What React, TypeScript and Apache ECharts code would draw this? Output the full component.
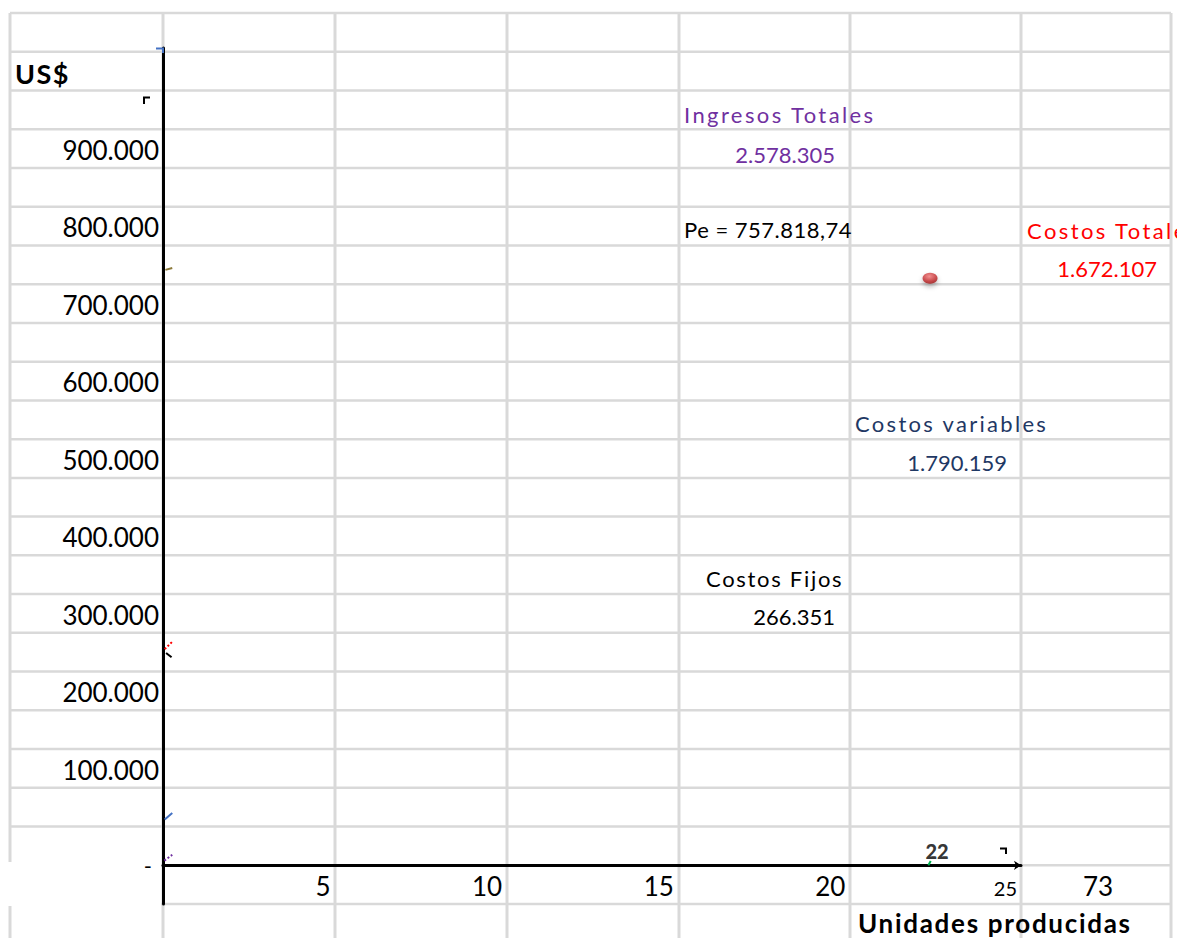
import React, { useEffect, useRef } from "react";
import * as echarts from "echarts";

// ---------- data ----------
const xTicks = [5, 10, 15, 20, 25];
const xExtraLabel = "73";
const yTickStep = 100000;
const yLabelMax = 900000;

const breakEvenUnits = 22.35;
const breakEvenUsd = 757818.74;
const breakEvenUnitsLabel = "22";

const ingresosTotales = 2578305;
const costosTotales = 1672107;
const costosVariables = 1790159;
const costosFijos = 266351;

// short starts of the curves visible next to the y axis
const stubIngresos = [[0.04, 6000], [0.27, 13500]];
const stubCostosVariables = [[0.05, 59000], [0.27, 67500]];
const stubCostosFijos = [[0.09, 274000], [0.25, 268500]];
const stubCostosTotales = [[0.05, 279000], [0.27, 288500]];
const stubPe = [[0.07, 768500], [0.27, 771000]];
const stubQ = [[breakEvenUnits - 0.05, 0], [breakEvenUnits + 0.02, 5500]];

// ---------- helpers ----------
const FONT = "Lato";
const fmtThousands = (v: number) =>
  Math.round(v).toString().replace(/\B(?=(\d{3})+(?!\d))/g, ".");
const fmtPe = (v: number) => {
  const [i, d] = v.toFixed(2).split(".");
  return fmtThousands(Number(i)) + "," + d;
};

// spreadsheet cell borders (page layout)
const colLines = [10, 163, 335, 507, 679, 850, 1021, 1171];
const rowTop = 13;
const rowH = 38.74;
const rowCount = 24;

export default function App() {
  const ref = useRef<HTMLDivElement>(null);

  useEffect(() => {
    if (!ref.current) return;
    const chart = echarts.init(ref.current, undefined, { renderer: "svg" });

    const gridEls: any[] = [];
    for (let k = 0; k < rowCount; k++) {
      const y = rowTop + k * rowH;
      gridEls.push({
        type: "line",
        z: -10,
        shape: { x1: colLines[0], y1: y, x2: colLines[colLines.length - 1], y2: y },
        style: { stroke: "#d9d9d9", lineWidth: 2.5 },
        silent: true,
      });
    }
    colLines.forEach((x) =>
      gridEls.push({
        type: "line",
        z: -10,
        shape: { x1: x, y1: rowTop, x2: x, y2: 938 },
        style: { stroke: "#d9d9d9", lineWidth: 3 },
        silent: true,
      })
    );
    // blank cell area left of the zero label
    gridEls.push({
      type: "rect",
      z: -5,
      shape: { x: 0, y: 862, width: 161, height: 44 },
      style: { fill: "#ffffff" },
      silent: true,
    });

    const txt = (
      text: string,
      x: number,
      y: number,
      color: string,
      opts: any = {}
    ) => ({
      type: "text",
      z: 20,
      x,
      y,
      style: {
        text,
        fill: color,
        font: `${opts.bold ? "bold " : ""}${opts.size || 22}px ${FONT}`,
        textAlign: opts.align || "left",
        textVerticalAlign: "middle",
      },
      silent: true,
    });

    const texts = [
      txt("US$", 15, 73, "#000000", { bold: true, size: 27 }),
      txt("Ingresos Totales", 684, 114, "#7030a0"),
      txt(fmtThousands(ingresosTotales), 835, 154, "#7030a0", { align: "right" }),
      txt("Pe = " + fmtPe(breakEvenUsd), 684, 229, "#000000"),
      txt("Costos Totales", 1027, 230, "#ff0000"),
      txt(fmtThousands(costosTotales), 1157, 268, "#ff0000", { align: "right" }),
      txt("Costos variables", 855, 423, "#1f3864"),
      txt(fmtThousands(costosVariables), 1007, 462, "#1f3864", { align: "right" }),
      txt("Costos Fijos", 706, 578, "#000000"),
      txt(fmtThousands(costosFijos), 835, 616, "#000000", { align: "right" }),
      txt(xExtraLabel, 1098, 886, "#000000", { align: "center", size: 26 }),
      txt("Unidades producidas", 858, 923, "#000000", { bold: true, size: 26 }),
    ];

    const marks = [
      {
        type: "polyline",
        z: 20,
        shape: { points: [[156, 48.5], [163, 48.5], [163, 53]] },
        style: { stroke: "#4472c4", lineWidth: 2, fill: null },
        silent: true,
      },
      {
        type: "polyline",
        z: 20,
        shape: { points: [[144, 104], [144, 97.5], [150, 97.5]] },
        style: { stroke: "#000000", lineWidth: 2, fill: null },
        silent: true,
      },
      {
        type: "polyline",
        z: 20,
        shape: { points: [[1000, 848.5], [1006, 848.5], [1006, 854]] },
        style: { stroke: "#000000", lineWidth: 2, fill: null },
        silent: true,
      },
    ];

    const stub = (name: string, data: number[][], color: string, type: string) => ({
      name,
      type: "line",
      data,
      showSymbol: false,
      symbol: "none",
      lineStyle: { color, width: 2, type },
      z: 4,
      silent: true,
    });

    const option: any = {
      animation: false,
      backgroundColor: "#ffffff",
      textStyle: { fontFamily: FONT },
      grid: { left: 163, right: 156, top: 47.9, bottom: 34, containLabel: false },
      xAxis: {
        type: "value",
        min: 0,
        max: 25,
        interval: 5,
        offset: -38.7,
        axisLine: {
          show: true,
          onZero: false,
          lineStyle: { color: "#000000", width: 3 },
          symbol: ["none", "arrow"],
          symbolSize: [7, 7],
        },
        axisTick: { show: false },
        splitLine: { show: false },
        axisLabel: {
          show: true,
          color: "#000000",
          fontSize: 26,
          fontFamily: FONT,
          align: "right",
          padding: [0, 4, 0, 0],
          margin: 8,
          showMaxLabel: true,
          formatter: (v: number) =>
            xTicks.includes(v) ? (v === 25 ? "{s|" + v + "}" : String(v)) : "",
          rich: { s: { fontSize: 20, fontFamily: FONT, color: "#000000", padding: [5, 0, 0, 0] } },
        },
      },
      yAxis: [
        {
          type: "value",
          min: -50000,
          max: 1055000,
          interval: 50000,
          position: "left",
          axisLine: { show: true, onZero: false, lineStyle: { color: "#000000", width: 3 } },
          axisTick: { show: false },
          splitLine: { show: false },
          axisLabel: {
            color: "#000000",
            fontSize: 26,
            fontFamily: FONT,
            margin: 4,
            verticalAlign: "bottom",
            lineHeight: 36,
            showMinLabel: true,
            showMaxLabel: true,
            formatter: (v: number) =>
              v > 0 && v <= yLabelMax && v % yTickStep === 0 ? fmtThousands(v) : "",
          },
        },
        {
          type: "value",
          min: -50000,
          max: 1055000,
          interval: 50000,
          position: "left",
          axisLine: { show: false },
          axisTick: { show: false },
          splitLine: { show: false },
          axisLabel: {
            color: "#000000",
            fontSize: 22,
            fontFamily: FONT,
            margin: 11,
            showMinLabel: true,
            formatter: (v: number) => (v === 0 ? "-" : ""),
          },
        },
      ],
      graphic: { elements: [...gridEls, ...marks, ...texts] },
      series: [
        stub("Ingresos Totales", stubIngresos, "#7030a0", "dotted"),
        stub("Costos variables", stubCostosVariables, "#4472c4", "solid"),
        stub("Costos Fijos", stubCostosFijos, "#000000", "solid"),
        stub("Costos Totales", stubCostosTotales, "#ff0000", "dotted"),
        stub("Pe", stubPe, "#8c7a3a", "solid"),
        stub("Q", stubQ, "#00b050", "solid"),
        {
          name: "Q equilibrio",
          type: "scatter",
          data: [[breakEvenUnits, 0]],
          symbolSize: 0,
          z: 6,
          label: {
            show: true,
            formatter: "{b|" + breakEvenUnitsLabel + "}",
            position: "top",
            distance: 4,
            offset: [7, 0],
            rich: {
              b: { fontWeight: 900, fontSize: 20, fontFamily: FONT, color: "#000000" },
            },
          },
          silent: true,
        },
        {
          name: "Punto de equilibrio",
          type: "scatter",
          data: [[breakEvenUnits, breakEvenUsd]],
          symbol: "circle",
          symbolSize: [15, 11],
          z: 7,
          itemStyle: {
            color: new echarts.graphic.RadialGradient(0.45, 0.35, 0.75, [
              { offset: 0, color: "#f47a7a" },
              { offset: 0.6, color: "#c0282a" },
              { offset: 1, color: "#8a0c0c" },
            ]),
            shadowBlur: 5,
            shadowColor: "rgba(0,0,0,0.35)",
            shadowOffsetY: 3,
          },
          silent: true,
        },
      ],
    };

    chart.setOption(option);

    // letter-spaced labels, as in the reference
    const spacing: Record<string, string> = {
      "Ingresos Totales": "2.4px",
      "Costos Totales": "2.4px",
      "Costos variables": "2.3px",
      "Costos Fijos": "1.7px",
      "Unidades producidas": "1.7px",
      "US$": "1.5px",
      "Pe = 757.818,74": "0.5px",
    };
    ref.current.querySelectorAll("text").forEach((t) => {
      const s = (t.textContent || "").trim();
      if (spacing[s]) (t as SVGTextElement).style.letterSpacing = spacing[s];
    });

    return () => chart.dispose();
  }, []);

  return (
    <div
      ref={ref}
      style={{ position: "fixed", left: 0, top: 0, width: 1177, height: 938, background: "#fff" }}
    />
  );
}
